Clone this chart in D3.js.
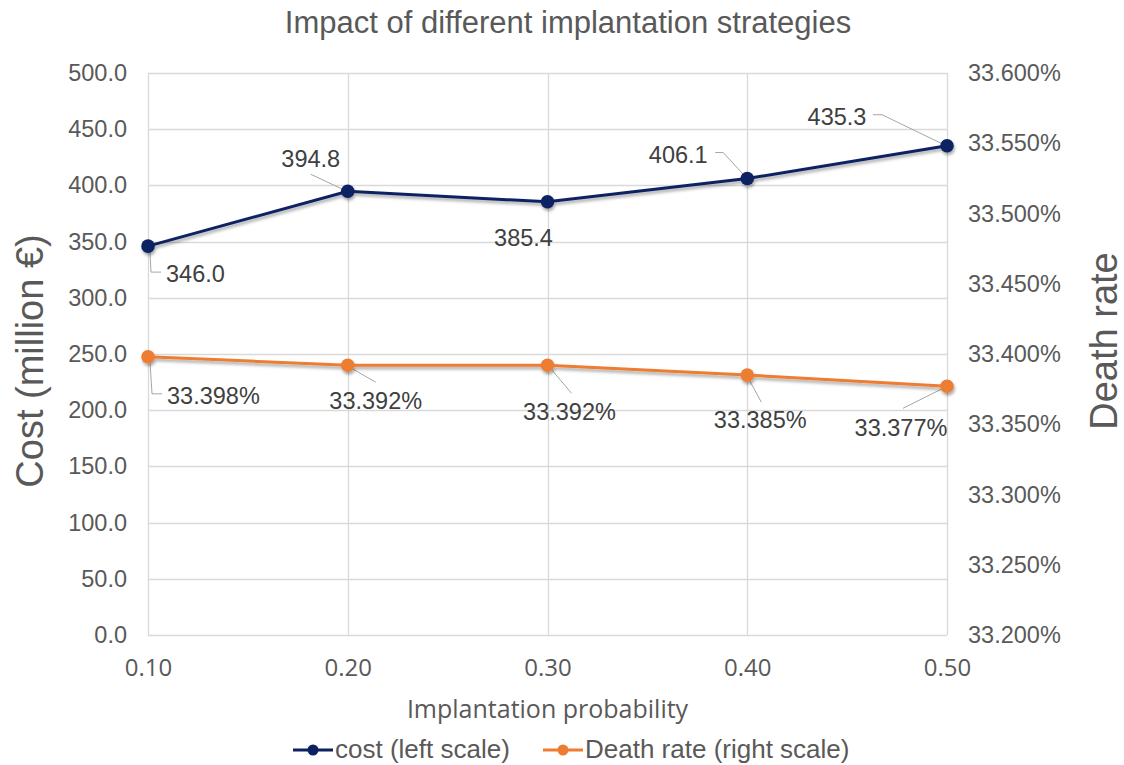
<!DOCTYPE html>
<html>
<head>
<meta charset="utf-8">
<script src="https://cdn.jsdelivr.net/npm/d3@7/dist/d3.min.js"></script>
<style>
  html, body { margin: 0; padding: 0; background: #fff; }
  svg { display: block; }
</style>
</head>
<body>
<svg id="chart" width="1124" height="765"></svg>
<script>
// Chart data
const probabilities = [0.10, 0.20, 0.30, 0.40, 0.50];
const costValues = [346.0, 394.8, 385.4, 406.1, 435.3];          // million €
const deathRateValues = [33.398, 33.392, 33.392, 33.385, 33.377]; // percent
const costTicks = [0, 50, 100, 150, 200, 250, 300, 350, 400, 450, 500];
const rateTicks = [33.20, 33.25, 33.30, 33.35, 33.40, 33.45, 33.50, 33.55, 33.60];
const seriesNames = ["cost (left scale)", "Death rate (right scale)"];

// Data-label placement: label centre offset from its point, text anchor,
// and the leader polyline (offsets from the point).
const costLabelLayout = [
  { dx: 18, dy: 28, anchor: "start", leader: [[2, 6], [3, 26], [13, 26]] },
  { dx: -37, dy: -33, anchor: "middle", leader: [[-37, -17], [-3, -1]] },
  { dx: -24, dy: 36, anchor: "middle", leader: null },
  { dx: -69, dy: -24, anchor: "middle", leader: [[-32, -26], [-24, -26], [-2, -2]] },
  { dx: -110, dy: -29, anchor: "middle", leader: [[-74, -31], [-65, -31], [-5, -2]] }
];
const rateLabelLayout = [
  { dx: 19, dy: 39, anchor: "start", leader: [[2, 5], [4, 37], [14, 37]] },
  { dx: 28, dy: 35, anchor: "middle", leader: [[2, 2], [28, 17]] },
  { dx: 22, dy: 46, anchor: "middle", leader: [[2, 2], [24, 28]] },
  { dx: 13, dy: 45, anchor: "middle", leader: [[1, 3], [14, 27]] },
  { dx: -46, dy: 41, anchor: "middle", leader: [[-2, 1], [-44, 22]] }
];

const svg = d3.select("#chart");
const W = 1124, H = 765;
const x0 = 148, x1 = 947;   // plot area left / right
const y0 = 635, y1 = 73;    // plot area bottom / top

const x = d3.scaleLinear().domain([0.10, 0.50]).range([x0, x1]);
const yL = d3.scaleLinear().domain([0, 500]).range([y0, y1]);
const yR = d3.scaleLinear().domain([33.20, 33.60]).range([y0, y1]);

const navy = "#0c2062";
const orange = "#ed7d31";
const textCol = "#595959";
const labelCol = "#404040";
const gridCol = "#d9d9d9";
const sans = "Liberation Sans, Arial, Helvetica, sans-serif";
const uiSans = "Open Sans, Liberation Sans, sans-serif";

// Soft drop shadow for lines and markers
const defs = svg.append("defs");
const f = defs.append("filter").attr("id", "shadow")
  .attr("x", "-20%").attr("y", "-20%").attr("width", "140%").attr("height", "160%");
f.append("feDropShadow").attr("dx", 1).attr("dy", 2.5).attr("stdDeviation", 1.8)
  .attr("flood-color", "#000").attr("flood-opacity", 0.35);

// Title
svg.append("text").attr("x", 568).attr("y", 33).attr("text-anchor", "middle")
  .attr("font-family", sans).attr("font-size", 31)
  .attr("fill", textCol).text("Impact of different implantation strategies");

// Gridlines
const grid = svg.append("g");
grid.selectAll("line.h").data(costTicks).join("line")
  .attr("x1", x0).attr("x2", x1)
  .attr("y1", d => Math.round(yL(d)) + 0.5).attr("y2", d => Math.round(yL(d)) + 0.5)
  .attr("stroke", gridCol).attr("stroke-width", 1.3);
grid.selectAll("line.v").data(probabilities).join("line")
  .attr("y1", y1).attr("y2", y0)
  .attr("x1", d => Math.round(x(d)) + 0.5).attr("x2", d => Math.round(x(d)) + 0.5)
  .attr("stroke", gridCol).attr("stroke-width", 1.3);

// Axes (tick labels only)
const axL = svg.append("g").attr("transform", `translate(${x0},0)`)
  .call(d3.axisLeft(yL).tickValues(costTicks).tickFormat(d3.format(".1f")).tickSize(0).tickPadding(21));
const axR = svg.append("g").attr("transform", `translate(${x1},0)`)
  .call(d3.axisRight(yR).tickValues(rateTicks).tickFormat(d => d.toFixed(3) + "%").tickSize(0).tickPadding(21));
const axB = svg.append("g").attr("transform", `translate(0,${y0})`)
  .call(d3.axisBottom(x).tickValues(probabilities).tickFormat(d3.format(".2f")).tickSize(0).tickPadding(24));
[axL, axR].forEach(a => {
  a.select(".domain").remove();
  a.selectAll("text").attr("font-family", sans).attr("font-size", 23.5).attr("fill", textCol);
});
axB.select(".domain").remove();
axB.selectAll("text").attr("font-family", uiSans).attr("font-size", 24).attr("fill", textCol);

// Axis titles
svg.append("text").attr("transform", `translate(43,361) rotate(-90)`)
  .attr("text-anchor", "middle").attr("font-family", sans)
  .attr("font-size", 38).attr("fill", textCol).text("Cost (million €)");
svg.append("text").attr("transform", `translate(1117,341) rotate(-90)`)
  .attr("text-anchor", "middle").attr("font-family", sans)
  .attr("font-size", 38).attr("fill", textCol).text("Death rate");
svg.append("text").attr("x", (x0 + x1) / 2).attr("y", 718).attr("text-anchor", "middle")
  .attr("font-family", uiSans).attr("font-size", 25)
  .attr("fill", textCol).text("Implantation probability");

// Draws one series: leader lines, data labels, then the shadowed line and markers
function drawSeries(values, yScale, color, layout, fmt) {
  const pts = probabilities.map((p, i) => ({ x: x(p), y: yScale(values[i]), v: values[i], i }));
  const lg = svg.append("g");
  pts.forEach(pt => {
    const L = layout[pt.i];
    if (L.leader) {
      lg.append("path")
        .attr("d", d3.line()(L.leader.map(([dx, dy]) => [pt.x + dx, pt.y + dy])))
        .attr("fill", "none").attr("stroke", "#a6a6a6").attr("stroke-width", 1);
    }
    lg.append("text").attr("x", pt.x + L.dx).attr("y", pt.y + L.dy + 8.4)
      .attr("text-anchor", L.anchor)
      .attr("font-family", sans).attr("font-size", 23.5)
      .attr("fill", labelCol).text(fmt(pt.v));
  });
  const g = svg.append("g").attr("filter", "url(#shadow)");
  g.append("path").datum(pts)
    .attr("d", d3.line().x(d => d.x).y(d => d.y))
    .attr("fill", "none").attr("stroke", color).attr("stroke-width", 3);
  g.selectAll("circle").data(pts).join("circle")
    .attr("cx", d => d.x).attr("cy", d => d.y).attr("r", 6.8).attr("fill", color);
}

drawSeries(deathRateValues, yR, orange, rateLabelLayout, v => v.toFixed(3) + "%");
drawSeries(costValues, yL, navy, costLabelLayout, v => v.toFixed(1));

// Legend
const legend = svg.append("g").attr("font-family", sans);
const legendItems = [
  { name: seriesNames[0], color: navy, x: 293 },
  { name: seriesNames[1], color: orange, x: 543 }
];
legendItems.forEach(it => {
  legend.append("line").attr("x1", it.x).attr("x2", it.x + 40).attr("y1", 750).attr("y2", 750)
    .attr("stroke", it.color).attr("stroke-width", 3);
  legend.append("circle").attr("cx", it.x + 20).attr("cy", 750).attr("r", 5.5).attr("fill", it.color);
  legend.append("text").attr("x", it.x + 42).attr("y", 758).attr("font-size", 26)
    .attr("fill", textCol).text(it.name);
});
</script>
</body>
</html>
